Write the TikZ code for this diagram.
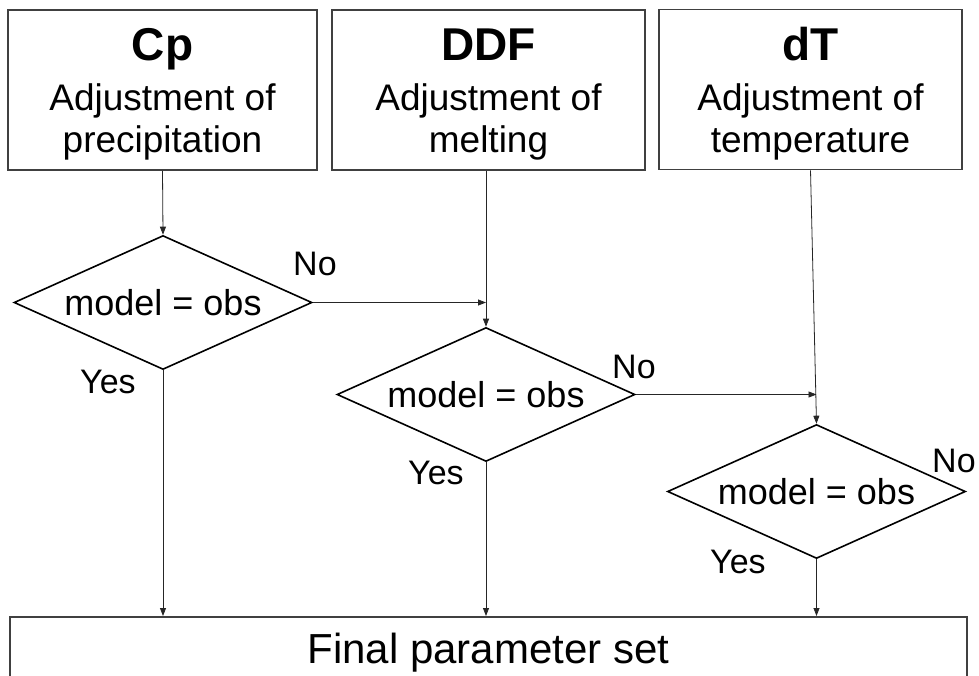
\documentclass[tikz,border=0pt]{standalone}
\usepackage{fontspec}
\setmainfont{Liberation Sans}
\usetikzlibrary{shapes.geometric,arrows.meta}
\newcommand\titlefnt{\fontsize{46}{50}\selectfont\bfseries}
\newcommand\bodyfnt{\fontsize{37}{42}\selectfont}
\newcommand\diafnt{\fontsize{36}{40}\selectfont}
\newcommand\labfnt{\fontsize{34}{38}\selectfont}
\newcommand\finfnt{\fontsize{42}{46}\selectfont}
\begin{document}
\begin{tikzpicture}[x=1pt,y=-1pt,
  box/.style={draw=black!75, line width=1.6pt, rectangle, inner sep=0pt},
  dec/.style={draw=black, line width=1.6pt, diamond, aspect=2.22, minimum width=298pt, minimum height=134pt, inner sep=0pt, font=\diafnt},
  conn/.style={draw=black!85, line width=0.8pt},
  arr/.style={conn, -{Triangle[length=8pt,width=6pt]}},
  lab/.style={anchor=base west, inner sep=0pt, font=\labfnt},
  txt/.style={anchor=base, inner sep=0pt}]
\path[use as bounding box] (0,0) rectangle (979,675);
\clip (0,0) rectangle (979,675);
\fill[white] (0,0) rectangle (979,675);
% top boxes
\node[box, minimum width=309pt, minimum height=160pt] (b1) at (162.5,90) {};
\node[box, minimum width=313pt, minimum height=160pt] (b2) at (488.5,90) {};
\node[box, minimum width=303pt, minimum height=160pt] (b3) at (810.5,89.5) {};
\node[txt, font=\titlefnt] (t1) at (162.5,60) {Cp};
\node[txt, font=\bodyfnt] (a1) at (162.5,110) {Adjustment of};
\node[txt, font=\bodyfnt] (p1) at (162.5,152) {precipitation};
\node[txt, font=\titlefnt] (t2) at (488.5,60) {DDF};
\node[txt, font=\bodyfnt] (a2) at (488.5,110) {Adjustment of};
\node[txt, font=\bodyfnt] (p2) at (488.5,152) {melting};
\node[txt, font=\titlefnt] (t3) at (810.5,60) {dT};
\node[txt, font=\bodyfnt] (a3) at (810.5,110) {Adjustment of};
\node[txt, font=\bodyfnt] (p3) at (810.5,152) {temperature};
% decisions
\node[dec] (d1) at (163,302.5) {model = obs};
\node[dec] (d2) at (486,394.5) {model = obs};
\node[dec] (d3) at (816.5,491.5) {model = obs};
% final
\node[box, minimum width=957pt, minimum height=140pt, anchor=north] (fin) at (488.5,616) {};
\node[txt, font=\finfnt] (ft) at (488.5,663) {Final parameter set};
% connectors
\draw[arr] (b1.south) -- (d1.north);
\draw[arr] (b2.south -| d2.north) -- (d2.north);
\draw[arr] (b3.south) -- (d3.north);
\draw[arr] (d1.east) -- (d1.east -| d2.north);
\draw[arr] (d2.east) -- (d2.east -| d3.north);
\draw[arr] (d1.south) -- (d1.south |- fin.north);
\draw[arr] (d2.south) -- (d2.south |- fin.north);
\draw[arr] (d3.south) -- (d3.south |- fin.north);
% labels
\node[lab] (no1) at (293,275) {No};
\node[lab] (yes1) at (80,393) {Yes};
\node[lab] (no2) at (612,378) {No};
\node[lab] (yes2) at (408,484) {Yes};
\node[lab] (no3) at (932,472) {No};
\node[lab] (yes3) at (710,573) {Yes};
\end{tikzpicture}
\end{document}
